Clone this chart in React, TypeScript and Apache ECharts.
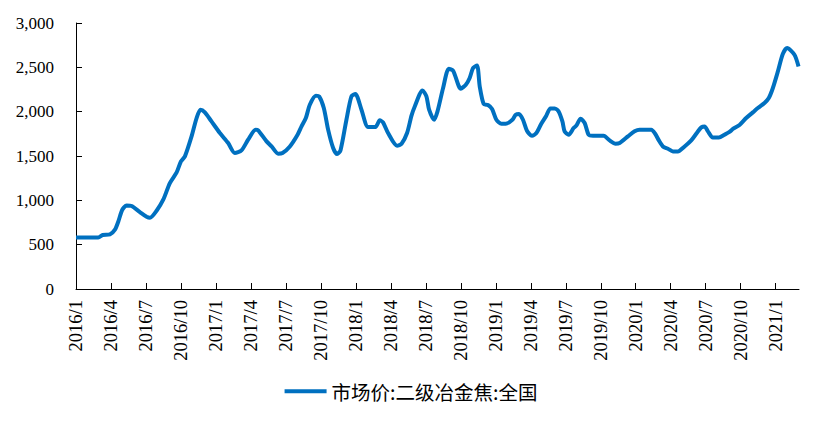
import React, { useEffect, useRef } from "react";
import * as echarts from "echarts";

// x positions: months elapsed since 2016/1 (fractional = within-month date)
const monthOffsets = [
  0, 1.91, 2.29, 2.91, 3.34, 3.63, 3.97, 4.34, 4.77, 5.48, 6.06, 6.34, 6.91, 7.48, 8.05, 8.63, 9.0, 9.34, 9.91,
  10.34, 10.68, 11.05, 11.62, 12.34, 13.05, 13.62, 14.19, 14.76, 15.4, 15.62, 16.34, 16.77, 17.34, 17.71, 18.34,
  19.0, 19.34, 19.71, 20.05, 20.57, 20.85, 21.25, 21.62, 22.05, 22.39, 22.68, 23.19, 23.62, 23.96, 24.48, 25.05,
  25.68, 26.05, 26.33, 26.76, 27.53, 27.92, 28.39, 28.77, 29.05, 29.71, 30.05, 30.28, 30.71, 31.0, 31.48, 31.97,
  32.34, 33.0, 33.43, 33.76, 34.05, 34.39, 34.62, 34.96, 35.33, 35.68, 36.05, 36.48, 36.85, 37.42, 37.71, 37.99,
  38.33, 38.67, 39.1, 39.48, 39.9, 40.33, 40.68, 41.05, 41.39, 41.71, 41.9, 42.25, 42.67, 42.9, 43.27, 43.62,
  43.96, 44.33, 45.24, 45.76, 46.27, 46.62, 47.33, 47.9, 48.33, 49.33, 49.68, 49.98, 50.33, 50.76, 51.19, 51.61,
  52.19, 52.76, 53.27, 53.62, 53.9, 54.19, 54.61, 55.13, 55.61, 56.04, 56.33, 56.9, 57.47, 58.04, 58.47, 59.04,
  59.41, 59.76, 60.19, 60.61, 60.98, 61.61, 61.96,
];

const prices = [
  582, 582, 609, 616, 669, 762, 894, 943, 936, 868, 815, 804, 883, 1007, 1195, 1315, 1439, 1496, 1721,
  1928, 2022, 1992, 1890, 1759, 1646, 1534, 1563, 1684, 1797, 1789, 1665, 1608, 1526, 1534, 1608,
  1740, 1834, 1928, 2078, 2180, 2172, 2041, 1797, 1590, 1522, 1563, 1909, 2172, 2199, 2022, 1827,
  1827, 1902, 1879, 1759, 1616, 1639, 1759, 1955, 2059, 2240, 2172, 2022, 1909, 2003, 2267, 2485,
  2462, 2259, 2304, 2380, 2492, 2522, 2285, 2086, 2075, 2030, 1909, 1864, 1864, 1909, 1966, 1974,
  1909, 1785, 1729, 1759, 1864, 1954, 2037, 2037, 2003, 1890, 1778, 1740, 1815, 1842, 1921, 1872,
  1740, 1729, 1729, 1676, 1639, 1646, 1721, 1778, 1797, 1797, 1748, 1676, 1608, 1582, 1552, 1552,
  1608, 1676, 1766, 1823, 1834, 1778, 1710, 1710, 1740, 1771, 1805, 1850, 1928, 1992, 2041, 2098,
  2154, 2267, 2454, 2650, 2718, 2642, 2510,
];

// tick label positions (months since 2016/1), every quarter
const tickMonths = [0, 3, 6, 9, 12, 15, 18, 21, 24, 27, 30, 33, 36, 39, 42, 45, 48, 51, 54, 57, 60];

const seriesName = "市场价:二级冶金焦:全国";

const monthLabel = (m: number) => {
  const y = 2016 + Math.floor(m / 12);
  const mo = (m % 12) + 1;
  return `${y}/${mo}`;
};

export default function App() {
  const ref = useRef<HTMLDivElement>(null);
  useEffect(() => {
    if (!ref.current) return;
    const chart = echarts.init(ref.current, null, { renderer: "svg" });
    const serif = "'Times New Roman', 'Liberation Serif', serif";
    chart.setOption({
      animation: false,
      grid: { left: 76, right: 23, top: 23, bottom: 132, containLabel: false },
      legend: {
        data: [seriesName],
        bottom: 15,
        left: "center",
        icon: "rect",
        itemWidth: 42,
        itemHeight: 4,
        textStyle: {
          fontFamily: "'Noto Sans CJK SC', sans-serif",
          fontSize: 19.5,
          color: "#000",
        },
      },
      xAxis: {
        type: "value",
        min: 0,
        max: 62,
        interval: 3,
        splitLine: { show: false },
        axisLine: { show: true, lineStyle: { color: "#000", width: 1 } },
        axisTick: {
          show: true,
          inside: true,
          length: 6,
          customValues: tickMonths,
          lineStyle: { color: "#000" },
        },
        axisLabel: {
          customValues: tickMonths,
          rotate: 90,
          margin: 11,
          fontFamily: serif,
          fontSize: 18.5,
          color: "#000",
          formatter: (v: number) => monthLabel(Math.round(v)),
        },
      },
      yAxis: {
        type: "value",
        min: 0,
        max: 3000,
        interval: 500,
        splitLine: { show: false },
        axisLine: { show: true, lineStyle: { color: "#000", width: 1 } },
        axisTick: { show: true, inside: true, length: 6, lineStyle: { color: "#000" } },
        axisLabel: {
          margin: 22,
          fontFamily: serif,
          fontSize: 17,
          color: "#000",
          formatter: (v: number) => v.toLocaleString("en-US"),
        },
      },
      series: [
        {
          name: seriesName,
          type: "line",
          data: monthOffsets.map((m, i) => [m, prices[i]]),
          showSymbol: false,
          smooth: 0.25,
          lineStyle: { color: "#0070C0", width: 4 },
          itemStyle: { color: "#0070C0" },
        },
      ],
    });
    return () => chart.dispose();
  }, []);
  return (
    <div
      ref={ref}
      style={{ position: "fixed", left: 0, top: 0, width: 822, height: 421, background: "#fff" }}
    />
  );
}
